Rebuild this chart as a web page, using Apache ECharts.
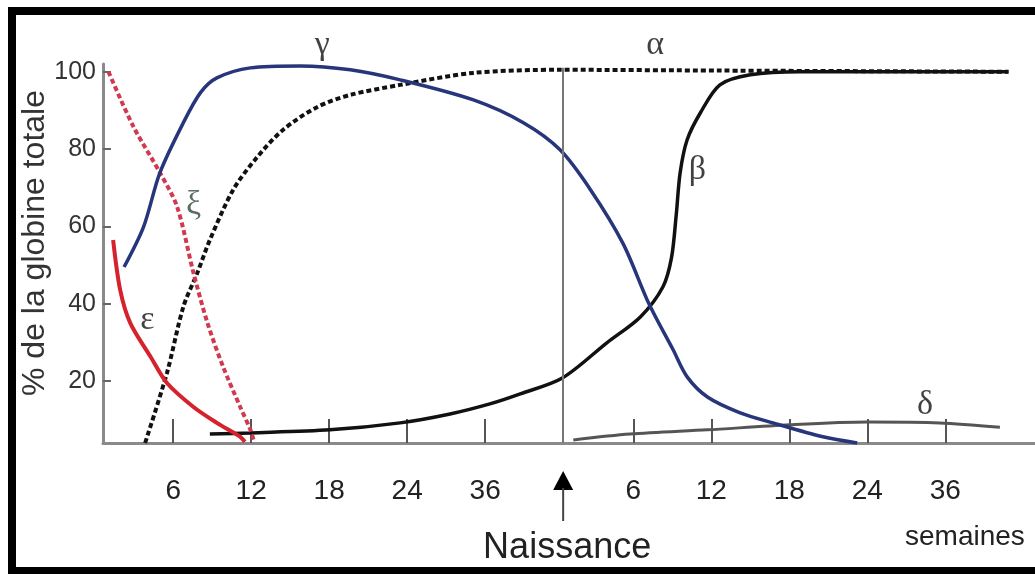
<!DOCTYPE html>
<html>
<head>
<meta charset="utf-8">
<script src="https://cdn.jsdelivr.net/npm/echarts@6/dist/echarts.min.js"></script>
<style>
  html, body { margin: 0; padding: 0; background: #fff; }
  #main { width: 1035px; height: 574px; }
</style>
</head>
<body>
<div id="main"></div>
<script>
// x is an evenly spaced schematic scale: one unit per tick slot, birth at 6
var tickPos = [1, 2, 3, 4, 5, 6.9, 7.9, 8.9, 9.9, 10.9];
var tickLabels = ['6', '12', '18', '24', '36', '6', '12', '18', '24', '36'];
var yTicks = [20, 40, 60, 80, 100];
var birthPos = 6;

// % of total globin
var epsilon = [[0.23, 56.5], [0.32, 43.6], [0.45, 35.0], [0.71, 26.3], [0.92, 19.5],
  [1.26, 13.3], [1.56, 9.2], [1.86, 5.6], [1.92, 4.3]];
var zeta = [[0.17, 100], [0.49, 85.8], [0.83, 73.9], [1.05, 65.1], [1.26, 48.0],
  [1.44, 35.0], [1.64, 23.7], [1.86, 13.3], [1.99, 7.4], [2.03, 4.8]];
var gamma = [[0.37, 49.5], [0.62, 59.9], [0.83, 73.9], [1.13, 86.8], [1.35, 94.6],
  [1.56, 98.4], [1.99, 101.0], [2.63, 101.5], [3.27, 100.5], [3.91, 97.9],
  [4.85, 92.7], [5.49, 86.8], [5.96, 79.8], [6.35, 69.5], [6.77, 55.5],
  [7.1, 40.0], [7.41, 28.1], [7.59, 21.1], [7.85, 15.9], [8.27, 11.8],
  [8.69, 9.2], [9.33, 5.6], [9.77, 4.0]];
var alpha = [[0.64, 4], [0.92, 22.1], [1.13, 39.2], [1.31, 48.0], [1.47, 56.5],
  [1.77, 69.5], [2.08, 78.0], [2.41, 85.0], [2.85, 90.9], [3.27, 94.0],
  [3.91, 96.6], [4.85, 99.7], [5.96, 100.5], [8.0, 100.3], [11.71, 100.0]];
var beta = [[1.47, 6.3], [1.99, 6.6], [3.01, 7.4], [3.91, 9.2], [4.55, 11.5],
  [5.06, 14.1], [5.45, 16.7], [5.99, 20.8], [6.56, 29.9], [6.99, 36.6],
  [7.28, 44.4], [7.39, 52.0], [7.45, 63.0], [7.5, 73.9], [7.59, 82.4], [7.76, 89.4],
  [8.01, 96.6], [8.4, 99.2], [9.04, 100.0], [11.71, 100.0]];
var delta = [[6.13, 4.8], [6.86, 6.3], [7.85, 7.4], [8.91, 8.7], [9.9, 9.4],
  [10.83, 9.2], [11.6, 8.1]];

var greekLabels = [
  { name: 'γ', value: [2.91, 107] },
  { name: 'α', value: [7.18, 107] },
  { name: 'β', value: [7.72, 74.6] },
  { name: 'δ', value: [10.64, 13.8] },
  { name: 'ε', value: [0.67, 35.8] },
  { name: 'ξ', value: [1.26, 65.6], color: '#2f4a3a' }
];

var chart = echarts.init(document.getElementById('main'));

function curve(data, color, width, dotted) {
  return {
    type: 'line',
    data: data,
    smooth: 0.3,
    showSymbol: false,
    clip: false,
    silent: true,
    lineStyle: { color: color, width: width, type: dotted ? [5, 3] : 'solid', cap: 'butt' }
  };
}

chart.setOption({
  animation: false,
  grid: { left: 103, right: 0, top: 64, bottom: 131 },
  xAxis: {
    type: 'value',
    min: 0.1,
    max: 12.05,
    splitLine: { show: false },
    axisLine: { lineStyle: { color: '#8a8a8a', width: 3 } },
    axisTick: { inside: true, length: 24, customValues: tickPos, lineStyle: { color: '#555', width: 2 } },
    axisLabel: {
      customValues: tickPos,
      margin: 34,
      fontFamily: 'Liberation Sans',
      fontSize: 28,
      color: '#222',
      formatter: function (v) {
        var i = tickPos.indexOf(v);
        return i >= 0 ? tickLabels[i] : '';
      }
    }
  },
  yAxis: {
    type: 'value',
    min: 4,
    max: 102,
    splitLine: { show: false },
    axisLine: { lineStyle: { color: '#8a8a8a', width: 3 } },
    axisTick: { inside: true, length: 8, customValues: yTicks, lineStyle: { color: '#666', width: 2 } },
    axisLabel: { customValues: yTicks, margin: 7, fontFamily: 'Liberation Sans', fontSize: 25, color: '#333' }
  },
  series: [
    curve(alpha, '#111', 4, true),
    curve(beta, '#111', 3.5, false),
    curve(delta, '#555', 3, false),
    curve(zeta, '#d2384f', 4, true),
    curve(epsilon, '#d6222c', 4, false),
    curve(gamma, '#27367a', 3.5, false),
    {
      type: 'line',
      data: [],
      silent: true,
      markLine: {
        symbol: 'none',
        silent: true,
        label: { show: false },
        lineStyle: { color: '#777', width: 2, type: 'solid' },
        data: [[{ coord: [birthPos, 101] }, { coord: [birthPos, 4] }]]
      }
    },
    {
      type: 'scatter',
      data: greekLabels.map(function (d) {
        return { name: d.name, value: d.value, label: { color: d.color || '#111' } };
      }),
      symbolSize: 0,
      clip: false,
      silent: true,
      label: {
        show: true,
        position: 'inside',
        formatter: '{b}',
        fontFamily: 'Liberation Serif',
        fontSize: 34
      }
    }
  ]
});

var bx = chart.convertToPixel({ xAxisIndex: 0 }, birthPos);
chart.setOption({
  graphic: [
    {
      type: 'rect',
      shape: { x: 12, y: 11, width: 1040, height: 560 },
      style: { fill: 'none', stroke: '#000', lineWidth: 8 },
      silent: true
    },
    {
      type: 'polygon',
      shape: { points: [[bx, 471], [bx - 10, 490], [bx + 10, 490]] },
      style: { fill: '#000' }
    },
    {
      type: 'line',
      shape: { x1: bx, y1: 488, x2: bx, y2: 521 },
      style: { stroke: '#444', lineWidth: 2 }
    },
    {
      type: 'text',
      x: bx + 4,
      y: 548,
      style: { text: 'Naissance', align: 'center', verticalAlign: 'middle',
        font: '36px "Liberation Sans"', fill: '#222' }
    },
    {
      type: 'text',
      x: 905,
      y: 537,
      style: { text: 'semaines', align: 'left', verticalAlign: 'middle',
        font: '28px "Liberation Sans"', fill: '#222' }
    },
    {
      type: 'text',
      x: 35,
      y: 243,
      rotation: Math.PI / 2,
      style: { text: '% de la globine totale', align: 'center', verticalAlign: 'middle',
        font: '32px "Liberation Sans"', fill: '#333' }
    }
  ]
});
</script>
</body>
</html>
